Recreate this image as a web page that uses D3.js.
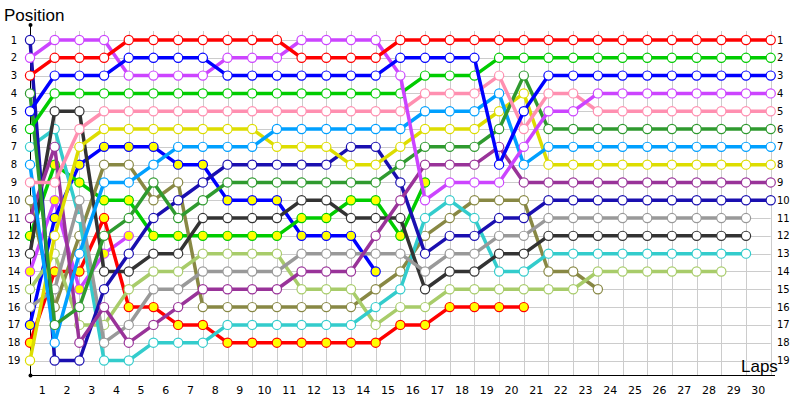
<!DOCTYPE html>
<html>
<head>
<meta charset="utf-8">
<script src="https://cdn.jsdelivr.net/npm/d3@7"></script>
<style>
  body { margin: 0; background: #fff; }
  svg { display: block; font-family: "DejaVu Sans", Verdana, sans-serif; }
</style>
</head>
<body>
<svg id="chart" width="800" height="400"></svg>
<script>
// driver codes, line colours and marker fills (yellow = team's second car)
const drivers = ["R", "B", "P", "G", "K", "DG", "LB", "Y", "DP", "N", "GR", "BK", "C", "LG", "O", "GY", "BY", "RY", "PY"];
const lineColors = {
    R: "#ff0000", B: "#0000ff", P: "#cc44ff", G: "#00cc00", K: "#ff8fb0",
    DG: "#2f9a2f", LB: "#00a0ff", Y: "#dddd00", DP: "#993399", N: "#1a0fb0",
    GR: "#999999", BK: "#333333", C: "#33cccc", LG: "#a8cc6a", O: "#888844",
    GY: "#00cc00", BY: "#0000ff", RY: "#ff0000", PY: "#cc44ff"
};
const fillColors = { GY: "#ffff00", BY: "#ffff00", RY: "#ffff00", PY: "#ffff00" };

// running order after each lap (index 0 = starting grid), first = position 1
const lapOrder = [
    ["N", "P", "R", "DG", "B", "G", "C", "LB", "K", "O", "DP", "GY", "BK", "PY", "LG", "GR", "BY", "RY", "Y"],
    ["P", "R", "B", "G", "BK", "C", "DP", "GY", "K", "PY", "BY", "Y", "LG", "RY", "GR", "O", "DG", "LB", "N"],
    ["P", "R", "B", "G", "BK", "K", "Y", "BY", "GY", "GR", "C", "O", "LB", "RY", "PY", "DG", "LG", "DP", "N"],
    ["P", "R", "B", "G", "K", "Y", "BY", "O", "LB", "GY", "RY", "DG", "PY", "BK", "N", "DP", "LG", "GR", "C"],
    ["R", "B", "P", "G", "K", "Y", "BY", "O", "LB", "GY", "DG", "PY", "N", "BK", "LG", "RY", "GR", "DP", "C"],
    ["R", "B", "P", "G", "K", "Y", "BY", "LB", "DG", "O", "N", "GY", "BK", "LG", "GR", "RY", "DP", "C"],
    ["R", "B", "P", "G", "K", "Y", "LB", "BY", "O", "N", "DG", "GY", "BK", "LG", "GR", "DP", "RY", "C"],
    ["R", "B", "P", "G", "K", "Y", "LB", "BY", "N", "DG", "BK", "GY", "LG", "GR", "DP", "O", "RY", "C"],
    ["R", "P", "B", "G", "K", "Y", "LB", "N", "DG", "BY", "BK", "GY", "LG", "GR", "DP", "O", "C", "RY"],
    ["R", "P", "B", "G", "K", "Y", "LB", "N", "DG", "BY", "BK", "GY", "LG", "GR", "DP", "O", "C", "RY"],
    ["R", "P", "B", "G", "K", "LB", "Y", "N", "DG", "BY", "BK", "GY", "LG", "GR", "DP", "O", "C", "RY"],
    ["P", "R", "B", "G", "K", "LB", "Y", "N", "DG", "BK", "GY", "BY", "GR", "DP", "LG", "O", "C", "RY"],
    ["P", "R", "B", "G", "K", "LB", "Y", "N", "DG", "BK", "GY", "BY", "GR", "DP", "LG", "O", "C", "RY"],
    ["P", "R", "B", "G", "K", "LB", "N", "Y", "DG", "GY", "BK", "BY", "GR", "DP", "LG", "O", "C", "RY"],
    ["P", "R", "B", "G", "K", "LB", "N", "Y", "DG", "GY", "BK", "DP", "GR", "BY", "O", "C", "LG", "RY"],
    ["R", "B", "P", "G", "K", "LB", "Y", "DG", "N", "DP", "BK", "GY", "GR", "O", "C", "LG", "RY"],
    ["R", "B", "G", "K", "LB", "Y", "DG", "DP", "GY", "P", "C", "O", "N", "GR", "BK", "LG", "RY"],
    ["R", "B", "G", "K", "LB", "Y", "DG", "DP", "P", "C", "O", "N", "GR", "BK", "LG", "RY"],
    ["R", "B", "G", "K", "LB", "Y", "DG", "DP", "P", "O", "C", "N", "GR", "BK", "LG", "RY"],
    ["R", "G", "K", "LB", "Y", "DG", "DP", "B", "P", "O", "N", "GR", "BK", "C", "LG", "RY"],
    ["R", "G", "DG", "Y", "B", "K", "P", "LB", "DP", "O", "N", "GR", "BK", "C", "LG", "RY"],
    ["R", "G", "B", "K", "P", "DG", "LB", "Y", "DP", "N", "GR", "BK", "C", "O", "LG"],
    ["R", "G", "B", "K", "P", "DG", "LB", "Y", "DP", "N", "GR", "BK", "C", "O", "LG"],
    ["R", "G", "B", "P", "K", "DG", "LB", "Y", "DP", "N", "GR", "BK", "C", "LG", "O"],
    ["R", "G", "B", "P", "K", "DG", "LB", "Y", "DP", "N", "GR", "BK", "C", "LG"],
    ["R", "G", "B", "P", "K", "DG", "LB", "Y", "DP", "N", "GR", "BK", "C", "LG"],
    ["R", "G", "B", "P", "K", "DG", "LB", "Y", "DP", "N", "GR", "BK", "C", "LG"],
    ["R", "G", "B", "P", "K", "DG", "LB", "Y", "DP", "N", "GR", "BK", "C", "LG"],
    ["R", "G", "B", "P", "K", "DG", "LB", "Y", "DP", "N", "GR", "BK", "C", "LG"],
    ["R", "G", "B", "P", "K", "DG", "LB", "Y", "DP", "N", "GR", "BK", "C"],
    ["R", "G", "B", "P", "K", "DG", "LB", "Y", "DP", "N"]
];

const lapLabels = d3.range(1, 31);
const positions = d3.range(1, 20);

const svg = d3.select("#chart");
const xScale = d3.scaleLinear().domain([0, 30]).range([30, 770.7]);
const yScale = d3.scaleLinear().domain([1, 19]).range([40, 360.5]);

// grid
const grid = svg.append("g").attr("stroke", "#cccccc").attr("stroke-width", 1);
grid.selectAll("line.v")
    .data(lapLabels)
    .enter().append("line")
    .attr("x1", d => Math.round(xScale(d)) + 0.5)
    .attr("x2", d => Math.round(xScale(d)) + 0.5)
    .attr("y1", 31)
    .attr("y2", 375);
grid.selectAll("line.h")
    .data(positions)
    .enter().append("line")
    .attr("x1", 30)
    .attr("x2", xScale(30))
    .attr("y1", d => Math.round(yScale(d)) + 0.5)
    .attr("y2", d => Math.round(yScale(d)) + 0.5);

// axes
svg.append("line").attr("x1", 30.5).attr("x2", 30.5).attr("y1", 25).attr("y2", 375.5)
    .attr("stroke", "#000").attr("stroke-width", 1);
svg.append("line").attr("x1", 30).attr("x2", 775).attr("y1", 375.5).attr("y2", 375.5)
    .attr("stroke", "#000").attr("stroke-width", 1);
svg.append("circle").attr("cx", 30.5).attr("cy", 25).attr("r", 2).attr("fill", "#000");
svg.append("circle").attr("cx", 30.5).attr("cy", 375.5).attr("r", 2).attr("fill", "#000");

svg.append("text").attr("x", 4).attr("y", 21)
    .style("font-family", "'Liberation Sans', Arial, sans-serif")
    .style("font-size", "17px").text("Position");
svg.append("text").attr("x", 741).attr("y", 372)
    .style("font-family", "'Liberation Sans', Arial, sans-serif")
    .style("font-size", "17px").text("Laps");

// position labels left and right
svg.selectAll("text.ly")
    .data(positions)
    .enter().append("text")
    .attr("x", 14)
    .attr("y", d => yScale(d) + 3.5)
    .attr("text-anchor", "middle")
    .style("font-size", "10px")
    .text(d => d);
svg.selectAll("text.ry")
    .data(positions)
    .enter().append("text")
    .attr("x", 777)
    .attr("y", d => yScale(d) + 3.5)
    .style("font-size", "10px")
    .text(d => d);

// lap labels between grid lines
svg.selectAll("text.lx")
    .data(lapLabels)
    .enter().append("text")
    .attr("x", d => (xScale(d - 1) + xScale(d)) / 2)
    .attr("y", 394)
    .attr("text-anchor", "middle")
    .style("font-size", "11px")
    .text(d => d);

// build one series per driver from the lap orders
const series = drivers.map(code => {
    const pts = [];
    lapOrder.forEach((order, lap) => {
        const pos = order.indexOf(code);
        if (pos >= 0) pts.push({ lap: lap, pos: pos + 1 });
    });
    return { code: code, points: pts };
});

const line = d3.line()
    .x(d => xScale(d.lap))
    .y(d => yScale(d.pos));

const drawOrder = series.slice().reverse();

const driverGroups = svg.selectAll("g.driver")
    .data(drawOrder)
    .enter().append("g")
    .attr("class", "driver");

driverGroups.append("path")
    .attr("fill", "none")
    .attr("stroke", d => lineColors[d.code])
    .attr("stroke-width", 3.5)
    .attr("stroke-linejoin", "round")
    .attr("d", d => line(d.points));

driverGroups.selectAll("circle")
    .data(d => d.points.map(p => Object.assign({ code: d.code }, p)))
    .enter().append("circle")
    .attr("cx", d => xScale(d.lap))
    .attr("cy", d => yScale(d.pos))
    .attr("r", 4.6)
    .attr("fill", d => fillColors[d.code] || "#ffffff")
    .attr("stroke", d => lineColors[d.code])
    .attr("stroke-width", 1.2);
</script>
</body>
</html>
